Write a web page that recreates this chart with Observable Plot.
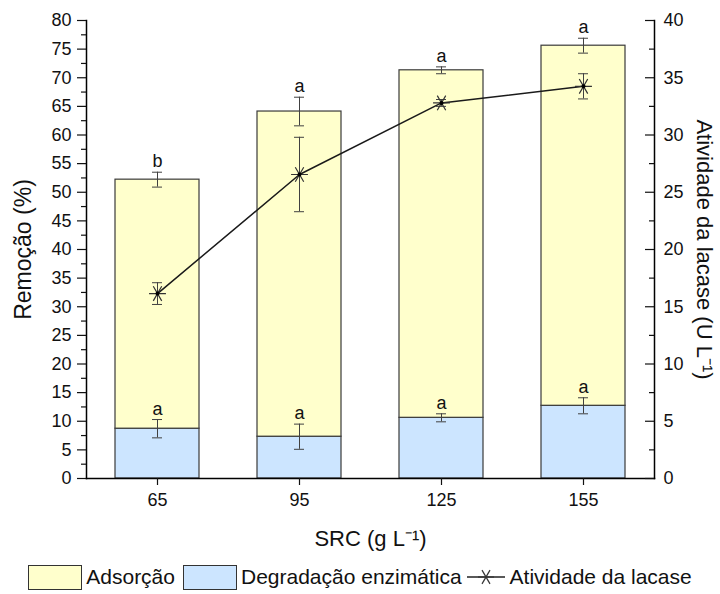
<!DOCTYPE html>
<html>
<head>
<meta charset="utf-8">
<script src="https://cdn.jsdelivr.net/npm/d3@7"></script>
<script src="https://cdn.jsdelivr.net/npm/@observablehq/plot@0.6"></script>
<style>
  body { margin: 0; background: #fff; font-family: "Liberation Sans", Arial, sans-serif; }
  #chart svg { display: block; }
  #legend { width: 720px; height: 34px; font-size: 21px; color: #111; display: flex; align-items: center; justify-content: center; white-space: nowrap; }
  #legend .sw { width: 54px; height: 25px; border: 1px solid #333; box-sizing: border-box; }
</style>
</head>
<body>
<div id="chart"></div>
<div id="legend"></div>
<script>
// ---- data ----
const src = ["65", "95", "125", "155"];
const degradacao = [8.7, 7.3, 10.6, 12.7];
const degradacaoErr = [1.6, 2.2, 0.7, 1.4];
const adsorcao = [43.5, 56.8, 60.7, 62.9];
const remocaoErr = [1.3, 2.5, 0.6, 1.3];
const lacase = [16.15, 26.55, 32.8, 34.25];
const lacaseErr = [0.95, 3.25, 0.3, 1.1];
const letraTopo = ["b", "a", "a", "a"];
const letraBase = ["a", "a", "a", "a"];
const componentes = ["Adsorção", "Degradação enzimática"];
const cores = ["#FFFFCC", "#CCE5FF"];
const yTicks = d3.range(0, 81, 5);
const rightTicks = d3.range(0, 41, 5);

// ---- derived tables ----
const bars = src.flatMap((s, i) => [
  {src: s, comp: "Degradação enzimática", v: degradacao[i]},
  {src: s, comp: "Adsorção", v: adsorcao[i]}
]);
const k = 2; // right axis (0-40) mapped onto left scale (0-80)
const pts = src.map((s, i) => {
  const tot = degradacao[i] + adsorcao[i];
  return {
    src: s,
    deg: degradacao[i], degLo: degradacao[i] - degradacaoErr[i], degHi: degradacao[i] + degradacaoErr[i],
    tot, totLo: tot - remocaoErr[i], totHi: tot + remocaoErr[i],
    lac: lacase[i] * k, lacLo: (lacase[i] - lacaseErr[i]) * k, lacHi: (lacase[i] + lacaseErr[i]) * k,
    top: letraTopo[i], base: letraBase[i]
  };
});

const errColor = "#404040";
const capInset = 37;

const chart = Plot.plot({
  width: 720,
  height: 560,
  marginLeft: 86,
  marginRight: 66,
  marginTop: 20,
  marginBottom: 82,
  style: {fontFamily: "'Liberation Sans', Arial, sans-serif", fontSize: "18px", color: "#111", background: "#fff"},
  x: {type: "band", domain: src, paddingInner: 0.41, paddingOuter: 0.205, label: null},
  y: {domain: [0, 80], label: null},
  color: {domain: componentes, range: cores},
  marks: [
    Plot.barY(bars, {x: "src", y: "v", fill: "comp", stroke: "#3a3a3a", strokeWidth: 1.2}),
    // error bars: degradation
    Plot.ruleX(pts, {x: "src", y1: "degLo", y2: "degHi", stroke: errColor, strokeWidth: 1}),
    Plot.tickY(pts, {x: "src", y: "degLo", insetLeft: capInset, insetRight: capInset, stroke: errColor}),
    Plot.tickY(pts, {x: "src", y: "degHi", insetLeft: capInset, insetRight: capInset, stroke: errColor}),
    // error bars: total removal
    Plot.ruleX(pts, {x: "src", y1: "totLo", y2: "totHi", stroke: errColor, strokeWidth: 1}),
    Plot.tickY(pts, {x: "src", y: "totLo", insetLeft: capInset, insetRight: capInset, stroke: errColor}),
    Plot.tickY(pts, {x: "src", y: "totHi", insetLeft: capInset, insetRight: capInset, stroke: errColor}),
    // laccase line
    Plot.line(pts, {x: "src", y: "lac", stroke: "#1a1a1a", strokeWidth: 1.5}),
    Plot.ruleX(pts, {x: "src", y1: "lacLo", y2: "lacHi", stroke: errColor, strokeWidth: 1}),
    Plot.tickY(pts, {x: "src", y: "lacLo", insetLeft: capInset, insetRight: capInset, stroke: errColor}),
    Plot.tickY(pts, {x: "src", y: "lacHi", insetLeft: capInset, insetRight: capInset, stroke: errColor}),
    Plot.dot(pts, {x: "src", y: "lac", symbol: "asterisk", r: 8, rotate: 90, stroke: "#333", strokeWidth: 1.2}),
    Plot.dot(pts, {x: "src", y: "lac", r: 2, fill: "#000"}),
    // letters
    Plot.text(pts, {x: "src", y: "totHi", text: "top", lineAnchor: "bottom", dy: -5, fontSize: 18}),
    Plot.text(pts, {x: "src", y: "degHi", text: "base", lineAnchor: "bottom", dy: -5, fontSize: 18}),
    // axis lines
    Plot.frame({anchor: "left", stroke: "#000", strokeWidth: 1.5}),
    Plot.frame({anchor: "right", stroke: "#000", strokeWidth: 1.5}),
    Plot.frame({anchor: "bottom", stroke: "#000", strokeWidth: 1.5}),
    // left axis
    Plot.axisY({anchor: "left", ticks: yTicks, tickSize: 9, tickPadding: 6, strokeWidth: 1.2, label: null, fontSize: 18}),
    Plot.axisY({anchor: "left", ticks: d3.range(2.5, 80, 5), tickSize: 5, tickFormat: () => "", strokeWidth: 1.2, label: null}),
    // right axis (ticks pointing inward/left)
    Plot.axisY({anchor: "left", dx: 568, ticks: rightTicks.map(d => d * k), tickSize: 9, tickFormat: () => "", strokeWidth: 1.2, label: null}),
    Plot.axisY({anchor: "left", dx: 568, ticks: d3.range(2.5, 40, 5).map(d => d * k), tickSize: 5, tickFormat: () => "", strokeWidth: 1.2, label: null}),
    Plot.axisY({anchor: "right", ticks: rightTicks.map(d => d * k), tickSize: 0, tickPadding: 9, tickFormat: d => d / k, label: null, fontSize: 18}),
    // bottom axis
    Plot.axisX({anchor: "bottom", tickSize: 7, tickPadding: 8, strokeWidth: 1.2, label: null, fontSize: 18}),
    // axis titles
    Plot.text(["Remoção (%)"], {frameAnchor: "left", dx: -63, rotate: -90, fontSize: 23, textAnchor: "middle", lineAnchor: "middle"}),
    Plot.text(["Atividade da lacase (U L⁻¹)"], {frameAnchor: "right", dx: 50, rotate: 90, fontSize: 22, textAnchor: "middle", lineAnchor: "middle"}),
    Plot.text(["SRC (g L⁻¹)"], {frameAnchor: "bottom", dy: 60, fontSize: 22, textAnchor: "middle", lineAnchor: "middle"})
  ]
});
document.getElementById("chart").append(chart);

// ---- legend ----
const legend = document.getElementById("legend");
legend.innerHTML =
  `<div class="sw" style="background:${cores[0]}"></div><span style="margin:0 8px 0 4px">${componentes[0]}</span>` +
  `<div class="sw" style="background:${cores[1]}"></div><span style="margin:0 4px 0 4px">${componentes[1]}</span>` +
  `<svg width="40" height="22" style="display:block"><line x1="1" y1="11" x2="39" y2="11" stroke="#222" stroke-width="1.5"/><g stroke="#333" stroke-width="1.2"><line x1="12" y1="11" x2="28" y2="11"/><line x1="16" y1="4.1" x2="24" y2="17.9"/><line x1="16" y1="17.9" x2="24" y2="4.1"/></g></svg>` +
  `<span style="margin-left:4px">Atividade da lacase</span>`;
</script>
</body>
</html>
